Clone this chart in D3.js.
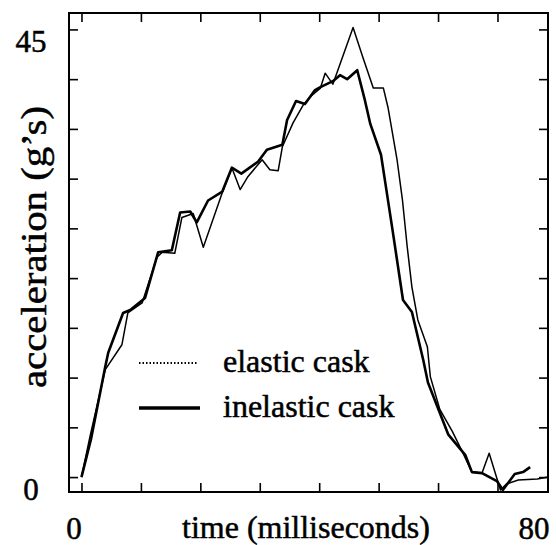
<html>
<head>
    <style>
        body { margin: 0; background: #fff; }
        text { font-family: "Liberation Serif", "Times New Roman", serif; fill: #000; stroke: #000; stroke-width: 0.5px; }
        .axis path { display: none; }
        .axis line { stroke: #000; stroke-width: 1.6px; }
    </style>
</head>
<body>
    <script src="https://d3js.org/d3.v7.min.js"></script>
    <script>
        var width = 556,
            height = 545;

        // time (ms) and acceleration (g's)
        var elasticTime = [0, 1.4, 4.0, 6.8, 7.8, 10.2, 12.7, 13.6, 15.7, 16.9, 18.8, 20.5, 23.7, 25.3, 26.7, 28.0,
            30.4, 31.7, 33.1, 33.8, 35.6, 37.3, 38.8, 40.2, 41.0, 42.3, 45.7, 47.4, 49.1, 50.8, 51.6, 53.1,
            54.0, 54.8, 55.6, 56.6, 58.2, 58.7, 60.3, 62.4, 64.2, 65.7, 67.4, 68.6, 70.5, 71.5, 73.5, 76.7, 78.5];
        var elasticAccel = [0, 4.0, 10.8, 13.3, 16.5, 17.5, 22.1, 22.6, 22.5, 26.1, 26.5, 23.1, 28.6, 31.1, 28.9, 30.2,
            31.9, 30.9, 30.8, 33.2, 35.6, 37.4, 38.4, 39.1, 40.6, 39.5, 45.2, 42.1, 39.1, 39.1, 37.1, 31.9,
            27.9, 23.2, 19.1, 15.8, 13.1, 10.1, 6.8, 4.6, 2.4, 0.5, 0.4, 2.4, -1.3, -0.7, -0.3, -0.2, 0.0];

        var inelasticTime = [0, 1.6, 4.0, 4.5, 7.0, 8.2, 10.7, 12.9, 15.2, 16.6, 18.3, 19.4, 21.3, 23.7, 25.3, 26.9,
            29.7, 31.2, 33.8, 34.6, 36.1, 37.6, 39.3, 40.2, 42.3, 43.5, 44.7, 46.4, 47.6, 48.6, 50.4, 51.3,
            52.4, 54.1, 55.6, 57.5, 58.3, 61.7, 64.6, 65.7, 67.4, 69.9, 70.9, 72.9, 74.3, 75.5];
        var inelasticAccel = [0, 3.8, 11.1, 12.5, 16.5, 16.8, 18.0, 22.6, 22.8, 26.6, 26.7, 25.6, 27.8, 28.7, 31.1, 30.5,
            31.7, 32.9, 33.4, 35.9, 37.8, 37.5, 38.9, 39.2, 39.8, 40.4, 40.0, 40.9, 38.1, 35.5, 32.4, 28.9,
            24.6, 17.8, 16.6, 11.8, 9.5, 4.3, 2.2, 0.5, 0.4, -0.4, -1.3, 0.3, 0.5, 1.0];

        var xTicks = [0, 10, 20, 30, 40, 50, 60, 70];
        var yTicks = [0, 5, 10, 15, 20, 25, 30, 35, 40, 45];
        var yTickLabels = [0, 45];
        var xTickLabels = ["0", "80"];
        var legendLabels = ["elastic cask", "inelastic cask"];

        // plot frame (note: "top" is reserved on window)
        var frameL = 69, frameR = 548, frameT = 13, frameB = 492;

        var x = d3.scaleLinear().domain([-2.1, 78.5]).range([frameL, frameR]);
        var y = d3.scaleLinear().domain([-1.5, 46.65]).range([frameB, frameT]);

        var svg = d3.select("body")
            .append("svg")
            .attr("width", width)
            .attr("height", height);

        // inward ticks on all four sides
        svg.append("g").attr("class", "axis")
            .attr("transform", "translate(0," + frameB + ")")
            .call(d3.axisBottom(x).tickValues(xTicks).tickSize(-9).tickFormat(""));
        svg.append("g").attr("class", "axis")
            .attr("transform", "translate(0," + frameT + ")")
            .call(d3.axisTop(x).tickValues(xTicks).tickSize(-9).tickFormat(""));
        svg.append("g").attr("class", "axis")
            .attr("transform", "translate(" + frameL + ",0)")
            .call(d3.axisLeft(y).tickValues(yTicks).tickSize(-9).tickFormat(""));
        svg.append("g").attr("class", "axis")
            .attr("transform", "translate(" + frameR + ",0)")
            .call(d3.axisRight(y).tickValues(yTicks).tickSize(-9).tickFormat(""));

        svg.append("rect")
            .attr("x", frameL)
            .attr("y", frameT)
            .attr("width", frameR - frameL)
            .attr("height", frameB - frameT)
            .attr("fill", "none")
            .attr("stroke", "#000")
            .attr("stroke-width", 2);

        var line = d3.line()
            .x(function (d) { return x(d[0]); })
            .y(function (d) { return y(d[1]); });

        var elastic = d3.zip(elasticTime, elasticAccel);
        var inelastic = d3.zip(inelasticTime, inelasticAccel);

        svg.append("path")
            .datum(elastic)
            .attr("d", line)
            .attr("fill", "none")
            .attr("stroke", "#000")
            .attr("stroke-width", 1.5)
            .attr("stroke-linejoin", "round");

        svg.append("path")
            .datum(inelastic)
            .attr("d", line)
            .attr("fill", "none")
            .attr("stroke", "#000")
            .attr("stroke-width", 2.6)
            .attr("stroke-linejoin", "round");

        // tick labels
        svg.selectAll(".ylab")
            .data(yTickLabels)
            .enter()
            .append("text")
            .attr("class", "ylab")
            .attr("x", 31)
            .attr("y", function (d) { return y(d) + 23; })
            .attr("text-anchor", "middle")
            .attr("font-size", 31)
            .text(function (d) { return d; });

        svg.append("text")
            .attr("x", frameL + 5)
            .attr("y", 539)
            .attr("text-anchor", "middle")
            .attr("font-size", 31)
            .text(xTickLabels[0]);
        svg.append("text")
            .attr("x", frameR - 14)
            .attr("y", 539)
            .attr("text-anchor", "middle")
            .attr("font-size", 31)
            .text(xTickLabels[1]);

        // axis titles
        svg.append("text")
            .attr("x", 306)
            .attr("y", 538)
            .attr("text-anchor", "middle")
            .attr("font-size", 32)
            .text("time (milliseconds)");

        svg.append("text")
            .attr("transform", "translate(46,247) rotate(-90)")
            .attr("text-anchor", "middle")
            .attr("font-size", 35)
            .attr("textLength", 282)
            .attr("lengthAdjust", "spacingAndGlyphs")
            .text("acceleration (g\u2019s)");

        // legend
        var legend = svg.append("g");
        legend.append("line")
            .attr("x1", 139).attr("x2", 197)
            .attr("y1", 363).attr("y2", 363)
            .attr("stroke", "#000")
            .attr("stroke-width", 2)
            .attr("stroke-dasharray", "1.5,2");
        legend.append("line")
            .attr("x1", 139).attr("x2", 200)
            .attr("y1", 408).attr("y2", 408)
            .attr("stroke", "#000")
            .attr("stroke-width", 3.5);
        legend.selectAll("text")
            .data(legendLabels)
            .enter()
            .append("text")
            .attr("x", 223)
            .attr("y", function (d, i) { return 372 + i * 45; })
            .attr("font-size", 32)
            .text(function (d) { return d; });
    </script>
</body>
</html>
